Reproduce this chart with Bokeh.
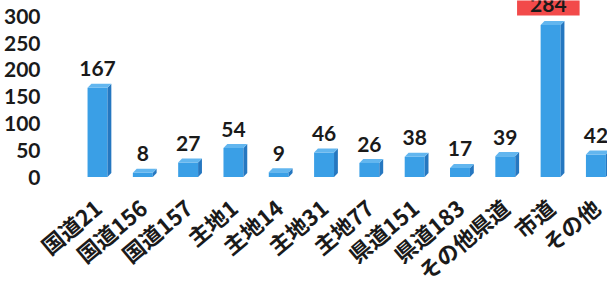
import numpy as np
from bokeh.plotting import figure
from bokeh.models import Range1d, FixedTicker, Label
from bokeh.embed import file_html
from bokeh.resources import INLINE
from bokeh.core.properties import value

categories = ["国道21", "国道156", "国道157", "主地1", "主地14", "主地31",
              "主地77", "県道151", "県道183", "その他県道", "市道", "その他"]
counts = [167, 8, 27, 54, 9, 46, 26, 38, 17, 39, 284, 42]
y_ticks = [0, 50, 100, 150, 200, 250, 300]
highlight = "市道"

xs = list(range(len(categories)))

p = figure(width=607, height=286, frame_width=549, frame_height=177,
           output_backend="svg", toolbar_location=None,
           x_range=Range1d(-0.817, 11.30), y_range=Range1d(-0.93, 329.9),
           min_border_left=58, min_border_right=0, min_border_top=0,
           min_border_bottom=0)
p.outline_line_color = None
p.xgrid.grid_line_color = None
p.ygrid.grid_line_color = None
p.background_fill_color = "white"
p.border_fill_color = "white"

# y axis
p.yaxis.ticker = FixedTicker(ticks=y_ticks)
p.yaxis.axis_line_color = None
p.yaxis.major_tick_line_color = None
p.yaxis.minor_tick_line_color = None
p.yaxis.major_label_text_font = "Lato"
p.yaxis.major_label_text_font_style = "bold"
p.yaxis.major_label_text_font_size = "21px"
p.yaxis.major_label_text_color = "#1a1a1a"
p.yaxis.major_label_standoff = 14

# x axis with rotated category labels
p.xaxis.ticker = FixedTicker(ticks=xs)
p.xaxis.major_label_overrides = {i: c for i, c in zip(xs, categories)}
p.xaxis.major_label_orientation = 0.698
p.xaxis.axis_line_color = None
p.xaxis.major_tick_line_color = None
p.xaxis.minor_tick_line_color = None
p.xaxis.major_label_text_font = "Noto Sans CJK JP"
p.xaxis.major_label_text_font_style = "bold"
p.xaxis.major_label_text_font_size = "22px"
p.xaxis.major_label_text_color = "#1a1a1a"
p.xaxis.major_label_standoff = 20

# 3D-looking bars
hw = 0.22
dx = 0.085
dy = 7.5
left = [i - hw for i in xs]
right = [i + hw for i in xs]
p.quad(left=left, right=right, bottom=0, top=counts,
       fill_color="#3a9fe6", line_color=None)
side_x = [[i + hw, i + hw + dx, i + hw + dx, i + hw] for i in xs]
side_y = [[0, dy, v + dy, v] for v in counts]
p.patches(side_x, side_y, fill_color="#2577c0", line_color=None)
top_x = [[i - hw, i + hw, i + hw + dx, i - hw + dx] for i in xs]
top_y = [[v, v, v + dy, v + dy] for v in counts]
p.patches(top_x, top_y, fill_color="#62b6ef", line_color=None)

# value labels
lx = [i for i, c in zip(xs, categories) if c != highlight]
ly = [v for v, c in zip(counts, categories) if c != highlight]
lt = [str(v) for v, c in zip(counts, categories) if c != highlight]
p.text(x=lx, y=ly, text=lt, text_align="center", text_baseline="alphabetic",
       y_offset=-19, text_font=value("Lato"), text_font_style="bold",
       text_font_size="21px", text_color="#1a1a1a")

hi = categories.index(highlight)
p.add_layout(Label(x=xs[hi] - 0.05, y=counts[hi], text=str(counts[hi]),
                   y_offset=21, text_align="center", text_baseline="alphabetic",
                   text_font="Lato", text_font_style="bold",
                   text_font_size="21px", text_color="#1a1a1a",
                   background_fill_color="#f24a4a",
                   padding=dict(left=13, right=13, top=4, bottom=4)))

open("out.html", "w").write(file_html(p, INLINE))
